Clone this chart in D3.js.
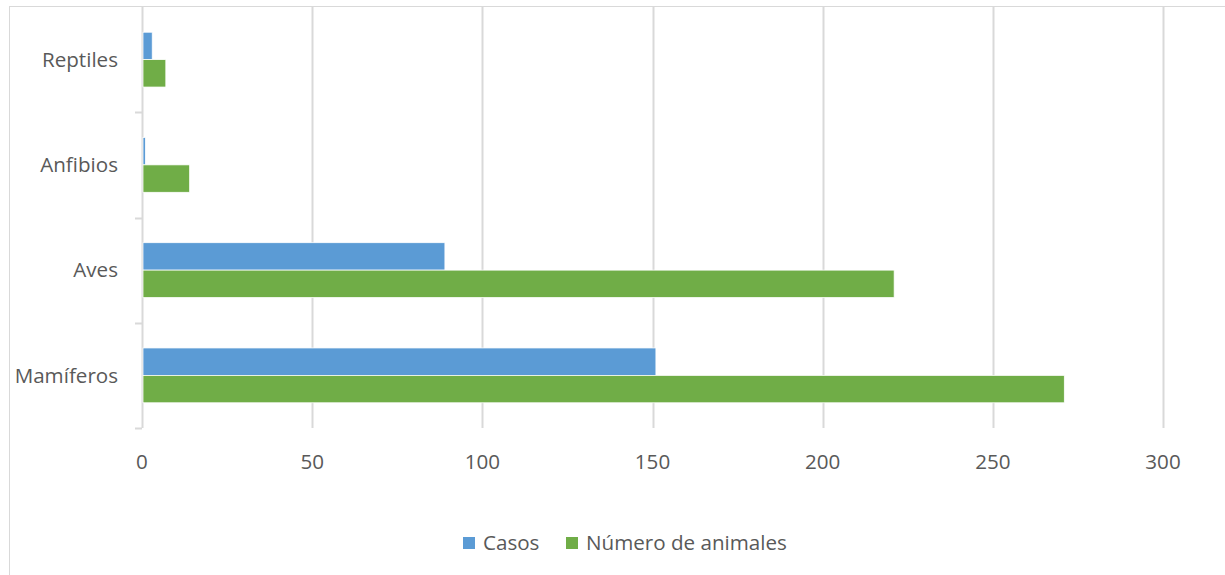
<!DOCTYPE html>
<html>
<head>
<meta charset="utf-8">
<script src="https://cdn.jsdelivr.net/npm/d3@7"></script>
<style>
body { margin: 0; background: #fff; }
text { font-family: "Open Sans", Lato, sans-serif; fill: #595959; }
</style>
</head>
<body>
<aside></aside>
<script>
const width = 1225;
const height = 575;

const categories = ['Reptiles', 'Anfibios', 'Aves', 'Mamíferos'];
const seriesNames = ['Casos', 'Número de animales'];
const casos = [3, 1, 89, 151];
const animales = [7, 14, 221, 271];
const xTicks = [0, 50, 100, 150, 200, 250, 300];
const colors = ['#5b9bd5', '#70ad47'];

const margin = { top: 7, right: 62, bottom: 147, left: 142 };
const fontSize = 20.6;

const svg = d3.select('aside')
    .append('svg')
    .attr('width', width)
    .attr('height', height);

// chart border (only top and left show)
svg.append('rect')
    .attr('x', 9.5)
    .attr('y', 6.5)
    .attr('width', 1400)
    .attr('height', 800)
    .attr('fill', 'none')
    .attr('stroke', '#d9d9d9');

const x = d3.scaleLinear()
    .domain([0, 300])
    .range([margin.left, width - margin.right]);

const y = d3.scaleBand()
    .domain(categories)
    .range([margin.top, height - margin.bottom]);

const inner = d3.scaleBand()
    .domain(seriesNames)
    .range([0, y.bandwidth()])
    .paddingOuter(0.92);

// gridlines
svg.append('g')
    .selectAll('line')
    .data(xTicks)
    .join('line')
    .attr('x1', d => Math.round(x(d)) + 0.5)
    .attr('x2', d => Math.round(x(d)) + 0.5)
    .attr('y1', margin.top)
    .attr('y2', height - margin.bottom)
    .attr('stroke', '#d9d9d9')
    .attr('stroke-width', 2);

// category tick marks
const bounds = categories.map(c => y(c) + y.bandwidth());
svg.append('g')
    .selectAll('line')
    .data(bounds)
    .join('line')
    .attr('x1', x(0) - 7)
    .attr('x2', x(0))
    .attr('y1', d => Math.round(d) + 0.5)
    .attr('y2', d => Math.round(d) + 0.5)
    .attr('stroke', '#d9d9d9')
    .attr('stroke-width', 2);

const rows = categories.map((c, i) => ({ cat: c, vals: [casos[i], animales[i]] }));

const groups = svg.append('g')
    .selectAll('g')
    .data(rows)
    .join('g')
    .attr('transform', d => `translate(0,${y(d.cat)})`);

groups.selectAll('rect')
    .data(d => d.vals.map((v, i) => ({ name: seriesNames[i], v, i })))
    .join('rect')
    .attr('x', x(0) + 1)
    .attr('y', d => inner(d.name))
    .attr('width', d => x(d.v) - x(0) - 1)
    .attr('height', inner.bandwidth())
    .attr('fill', d => colors[d.i])
    .attr('stroke', '#fff')
    .attr('stroke-width', 0.75);

// category labels
svg.append('g')
    .selectAll('text')
    .data(categories)
    .join('text')
    .attr('x', 118)
    .attr('y', d => y(d) + y.bandwidth() / 2)
    .attr('dy', '0.35em')
    .attr('text-anchor', 'end')
    .attr('font-size', fontSize)
    .text(d => d);

// x tick labels
svg.append('g')
    .selectAll('text')
    .data(xTicks)
    .join('text')
    .attr('x', d => x(d))
    .attr('y', 462)
    .attr('dy', '0.35em')
    .attr('text-anchor', 'middle')
    .attr('font-size', fontSize)
    .text(d => d);

// legend
const legendX = [463, 566];
const legend = svg.append('g')
    .selectAll('g')
    .data(seriesNames)
    .join('g')
    .attr('transform', (d, i) => `translate(${legendX[i]},543)`);

legend.append('rect')
    .attr('x', 0)
    .attr('y', -6)
    .attr('width', 12)
    .attr('height', 12)
    .attr('fill', (d, i) => colors[i]);

legend.append('text')
    .attr('x', 20)
    .attr('y', 0)
    .attr('dy', '0.35em')
    .attr('font-size', fontSize)
    .text(d => d);
</script>
</body>
</html>
